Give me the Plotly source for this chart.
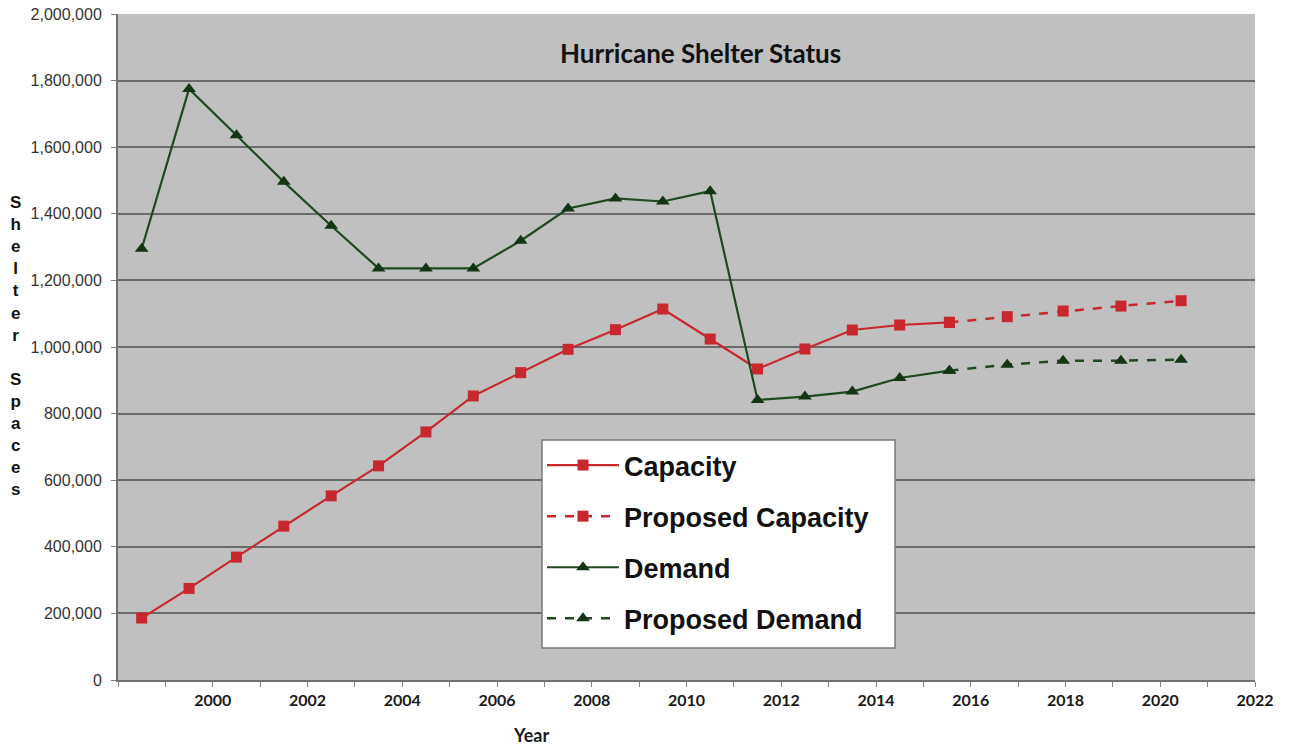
import plotly.graph_objects as go

# ---- data ----
years_actual = [1998.5, 1999.5, 2000.5, 2001.5, 2002.5, 2003.5, 2004.5, 2005.5, 2006.5,
                2007.5, 2008.5, 2009.5, 2010.5, 2011.5, 2012.5, 2013.5, 2014.5, 2015.55]
capacity = [186000, 275000, 369000, 462000, 553000, 643000, 745000, 853000, 923000,
            993000, 1052000, 1114000, 1024000, 934000, 994000, 1051000, 1066000, 1074000]
demand = [1295000, 1775000, 1636000, 1496000, 1364000, 1236000, 1236000, 1236000, 1319000,
          1416000, 1446000, 1437000, 1468000, 841000, 851000, 866000, 907000, 929000]

years_proposed = [2015.55, 2016.77, 2017.95, 2019.17, 2020.44]
proposed_capacity = [1074000, 1091000, 1108000, 1123000, 1139000]
proposed_demand = [929000, 947000, 959000, 959000, 962000]

x_tick_vals = [2000, 2002, 2004, 2006, 2008, 2010, 2012, 2014, 2016, 2018, 2020, 2022]
x_tick_text = [str(v) for v in x_tick_vals]
y_tick_vals = [0, 200000, 400000, 600000, 800000, 1000000, 1200000, 1400000, 1600000, 1800000, 2000000]
y_tick_text = ["0", "200,000", "400,000", "600,000", "800,000", "1,000,000", "1,200,000",
               "1,400,000", "1,600,000", "1,800,000", "2,000,000"]

RED = "#c8282d"
GREEN = "#1f4a1f"
GREEN_M = "#143514"

fig = go.Figure()
fig.add_trace(go.Scatter(x=years_actual, y=capacity, name="Capacity", mode="lines+markers",
                         legendgroup="a",
                         line=dict(color=RED, width=2.2),
                         marker=dict(symbol="square", size=11, color=RED)))
fig.add_trace(go.Scatter(x=years_proposed, y=proposed_capacity, name="Proposed Capacity",
                         mode="lines+markers", legendgroup="b",
                         line=dict(color=RED, width=2.5, dash="dash"),
                         marker=dict(symbol="square", size=11, color=RED)))
fig.add_trace(go.Scatter(x=years_actual, y=demand, name="Demand", mode="lines+markers",
                         legendgroup="c",
                         line=dict(color=GREEN, width=2.2),
                         marker=dict(symbol="triangle-up", size=12, color=GREEN_M)))
fig.add_trace(go.Scatter(x=years_proposed, y=proposed_demand, name="Proposed Demand",
                         mode="lines+markers", legendgroup="d",
                         line=dict(color=GREEN, width=2.5, dash="dash"),
                         marker=dict(symbol="triangle-up", size=12, color=GREEN_M)))

PW, PH = 1137, 666  # plot area size in px

fig.update_layout(
    width=1293, height=746,
    margin=dict(l=118, r=38, t=14, b=66, autoexpand=False),
    paper_bgcolor="white",
    plot_bgcolor="#c0c0c0",
    showlegend=True,
    legend=dict(x=(542 - 118) / PW, y=(680 - 441) / PH, xanchor="left", yanchor="top",
                bgcolor="rgba(0,0,0,0)", borderwidth=0,
                font=dict(family="Liberation Sans, Arial", size=27, color="#111111", weight="bold"),
                tracegroupgap=13, itemwidth=72, traceorder="grouped"),
    font=dict(family="Liberation Sans, Arial", color="#222222"),
)

# white legend box behind the legend entries
fig.add_shape(type="rect", xref="paper", yref="paper",
              x0=(542 - 118) / PW, x1=(895 - 118) / PW,
              y0=(680 - 648) / PH, y1=(680 - 440) / PH,
              fillcolor="white", line=dict(color="#7a7a7a", width=1.5), layer="above")

fig.update_xaxes(range=[1998, 2022], tickmode="array", tickvals=x_tick_vals, ticktext=x_tick_text,
                 ticks="outside", ticklen=5, tickcolor="#808080", tickwidth=1,
                 tickfont=dict(family="Lato", size=16, color="#1a1a1a", weight="bold"),
                 showgrid=False, zeroline=False, automargin=False,
                 showline=True, linecolor="#707070", linewidth=2,
                 minor=dict(tickmode="linear", tick0=1998, dtick=1, ticks="outside",
                            ticklen=5, tickcolor="#808080", showgrid=False))
fig.update_yaxes(range=[0, 2000000], tickmode="array", tickvals=y_tick_vals, ticktext=y_tick_text,
                 ticks="outside", ticklen=5, tickcolor="#808080", ticklabelstandoff=6,
                 tickfont=dict(family="Liberation Sans, Arial", size=16, color="#333333"),
                 showgrid=True, gridcolor="#6a6a6a", gridwidth=2, zeroline=False, automargin=False,
                 showline=True, linecolor="#707070", linewidth=2)

fig.add_annotation(text="<b>Hurricane Shelter Status</b>", xref="paper", yref="paper",
                   x=(700 - 118) / PW, y=(680 - 53) / PH, xanchor="center", yanchor="middle",
                   showarrow=False, font=dict(family="Lato", size=26, color="#111111"))
fig.add_annotation(text="<b>Year</b>", xref="paper", yref="paper",
                   x=(531 - 118) / PW, y=-(735 - 680) / PH, xanchor="center", yanchor="middle",
                   showarrow=False, font=dict(family="Lato", size=18, color="#1a1a1a"))
fig.add_annotation(text="<b>" + "<br>".join(list("Shelter") + [""] + list("Spaces")) + "</b>",
                   xref="paper", yref="paper",
                   x=-(118 - 15) / PW, y=(680 - 346) / PH, xanchor="center", yanchor="middle",
                   showarrow=False, align="center",
                   font=dict(family="Liberation Sans, Arial", size=17, color="#111111"))

fig.write_html("out.html")
